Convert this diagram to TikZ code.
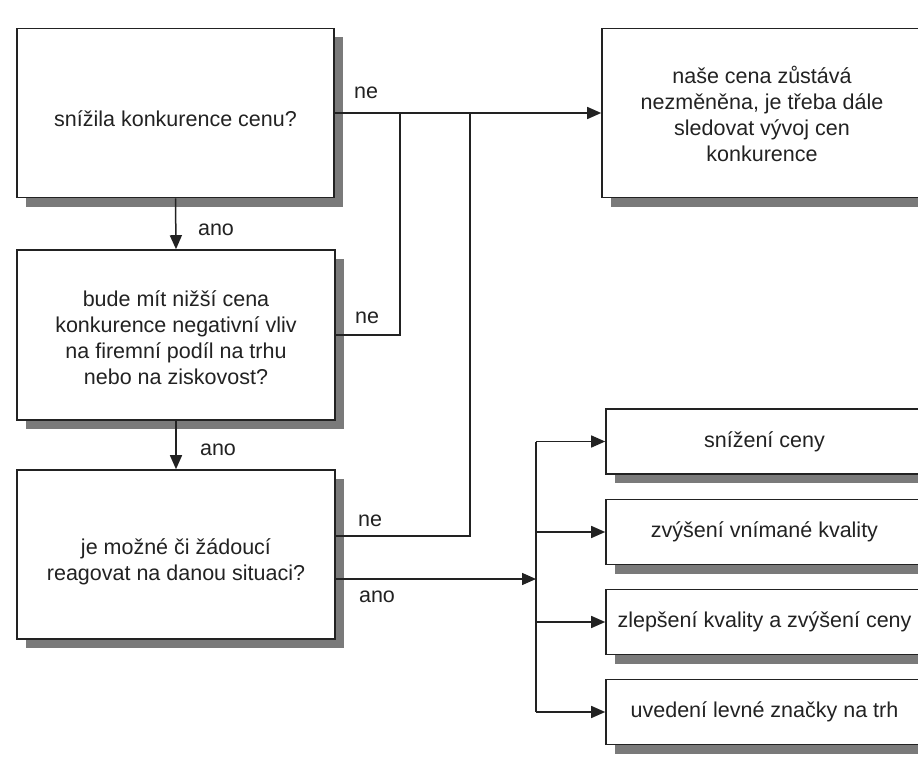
\documentclass[tikz,border=0pt]{standalone}
\usepackage{fontspec}
\setmainfont{Liberation Sans}
\usetikzlibrary{arrows.meta,shadows,calc}
\definecolor{ink}{HTML}{222222}
\definecolor{shade}{HTML}{7A7A7A}
\begin{document}
\begin{tikzpicture}[x=1pt,y=-1pt,
  txt/.style={text=ink, font=\fontsize{21.5}{26}\selectfont},
  box/.style={txt, draw=ink, line width=1.6pt, fill=white, align=center, inner sep=0pt,
    general shadow={fill=shade, shadow xshift=9pt, shadow yshift=-9pt}},
  conn/.style={draw=ink, line width=1.5pt},
  arr/.style={conn, -{Triangle[length=14pt,width=12pt]}},
  lbl/.style={txt, inner sep=0pt},
  inner/.style={txt, align=center, inner sep=0pt}]
\useasboundingbox (0,0) rectangle (918,760);
\fill[white] (0,0) rectangle (918,760);

% left column
\node[box, minimum width=317pt, minimum height=169pt] (b1) at (175.5,113) {};
\node[inner] (b1t) at ($(b1.center)+(0,6)$) {snížila konkurence cenu?};
\node[box, minimum width=318pt, minimum height=170pt] (b2) at (176,335) {};
\node[inner] (b2t) at ($(b2.center)+(0,3)$)
  {bude mít nižší cena\\konkurence negativní vliv\\na firemní podíl na trhu\\nebo na ziskovost?};
\node[box, minimum width=318pt, minimum height=169pt] (b3) at (176,554.5) {};
\node[inner] (b3t) at ($(b3.center)+(0,7.5)$)
  {je možné či žádoucí\\reagovat na danou situaci?};

% top right
\node[box, minimum width=320pt, minimum height=169pt] (bn) at (762,113) {};
\node[inner] (bnt) at ($(bn.center)+(0,1)$)
  {naše cena zůstává\\nezměněna, je třeba dále\\sledovat vývoj cen\\konkurence};

% right column
\node[box, minimum width=317pt, minimum height=65pt] (r1) at (764.5,441.5) {snížení ceny};
\node[box, minimum width=317pt, minimum height=65pt] (r2) at (764.5,532) {zvýšení vnímané kvality};
\node[box, minimum width=317pt, minimum height=65pt] (r3) at (764.5,622) {zlepšení kvality a zvýšení ceny};
\node[box, minimum width=317pt, minimum height=65pt] (r4) at (764.5,712) {uvedení levné značky na trh};

% junctions
\coordinate (j1) at (400,113);
\coordinate (j2) at (470,113);
\coordinate (t) at (536,579);
\coordinate (b3ne) at ($(b3.east)+(0,-18.5)$);
\coordinate (b3ano) at ($(b3.east)+(0,24.5)$);

% connectors
\draw[arr] (b1.east) -- (bn.west);
\draw[conn] (b2.east) -| (j1);
\draw[conn] (b3ne) -| (j2);
\draw[arr] (b1.south) -- (b2.north);
\draw[arr] (b2.south) -- (b3.north);
\draw[arr] (b3ano) -- (t);
\draw[conn] (t |- r1.west) -- (t |- r4.west);
\draw[arr] (t |- r1.west) -- (r1.west);
\draw[arr] (t |- r2.west) -- (r2.west);
\draw[arr] (t |- r3.west) -- (r3.west);
\draw[arr] (t |- r4.west) -- (r4.west);

% labels
\node[lbl] (l1) at (366,93) {ne};
\node[lbl] (l2) at (216,230) {ano};
\node[lbl] (l3) at (367,318) {ne};
\node[lbl] (l4) at (218,450) {ano};
\node[lbl] (l5) at (370,521) {ne};
\node[lbl] (l6) at (377,597) {ano};
\end{tikzpicture}
\end{document}
